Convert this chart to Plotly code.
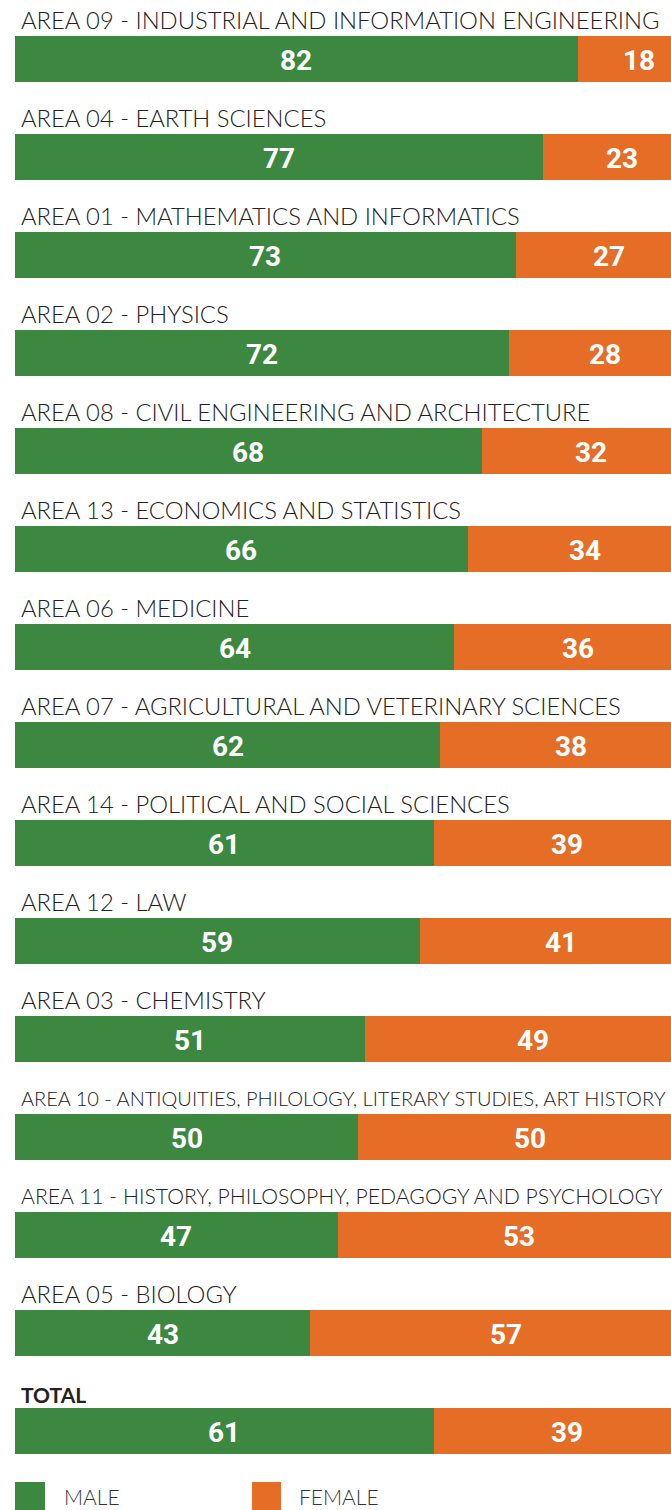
import plotly.graph_objects as go

categories = [
    "AREA 09 - INDUSTRIAL AND INFORMATION ENGINEERING",
    "AREA 04 - EARTH SCIENCES",
    "AREA 01 - MATHEMATICS AND INFORMATICS",
    "AREA 02 - PHYSICS",
    "AREA 08 - CIVIL ENGINEERING AND ARCHITECTURE",
    "AREA 13 - ECONOMICS AND STATISTICS",
    "AREA 06 - MEDICINE",
    "AREA 07 - AGRICULTURAL AND VETERINARY SCIENCES",
    "AREA 14 - POLITICAL AND SOCIAL SCIENCES",
    "AREA 12 - LAW",
    "AREA 03 - CHEMISTRY",
    "AREA 10 - ANTIQUITIES, PHILOLOGY, LITERARY STUDIES, ART HISTORY",
    "AREA 11 - HISTORY, PHILOSOPHY, PEDAGOGY AND PSYCHOLOGY",
    "AREA 05 - BIOLOGY",
    "TOTAL",
]
male = [82, 77, 73, 72, 68, 66, 64, 62, 61, 59, 51, 50, 47, 43, 61]
female = [18, 23, 27, 28, 32, 34, 36, 38, 39, 41, 49, 50, 53, 57, 39]
series_names = ["MALE", "FEMALE"]

GREEN = "#3D8841"
ORANGE = "#E56D25"
LABEL_FONT = "Lato, 'Noto Sans', sans-serif"
NUM_FONT = "Roboto, 'Liberation Sans', sans-serif"

W, H = 671, 1510
ML, MR, MT, MB = 15, 0, 9.5, 30
PW = W - ML - MR
PH = H - MT - MB
X_MAX = 95.6  # the bars run past the right edge of the picture

fig = go.Figure()
for name, vals, col in [(series_names[0], male, GREEN), (series_names[1], female, ORANGE)]:
    fig.add_trace(go.Bar(
        y=categories, x=vals, name=name, orientation="h",
        marker=dict(color=col, line=dict(width=0)),
        width=0.474,
        hoverinfo="skip", showlegend=False,
    ))

annotations = []
# value labels, centred on each segment (positions computed from the data)
for vals, base in [(male, [0] * len(male)), (female, male)]:
    for c, b, v in zip(categories, base, vals):
        annotations.append(dict(
            x=b + v / 2, y=c, xref="x", yref="y", text=str(v),
            xanchor="center", yanchor="middle", yshift=-1, showarrow=False,
            font=dict(family=NUM_FONT, size=28, color="white", weight="bold"),
        ))

for c in categories:
    size = 23.8
    if c.startswith("AREA 10"):
        size = 20.0
    elif c.startswith("AREA 11"):
        size = 21.2
    bold = c == "TOTAL"
    annotations.append(dict(
        x=0, y=c, xref="x", yref="y", text=f"<b>{c}</b>" if bold else c,
        xanchor="left", yanchor="middle", xshift=4, yshift=39.5 if not bold else 37,
        showarrow=False,
        font=dict(family=LABEL_FONT, size=21 if bold else size, color="#222222",
                  weight="bold" if bold else 300),
    ))

def px_x(p):
    return (p - ML) / PW

def px_y(p):
    return (H - MB - p) / PH

shapes = []
legend_items = [(series_names[0], GREEN, 15, 45, 62), (series_names[1], ORANGE, 252, 281, 297)]
for name, col, x0, x1, tx in legend_items:
    shapes.append(dict(type="rect", xref="paper", yref="paper",
                       x0=px_x(x0), x1=px_x(x1), y0=px_y(1510), y1=px_y(1482),
                       fillcolor=col, line=dict(width=0)))
    annotations.append(dict(x=px_x(tx), y=px_y(1497), xref="paper", yref="paper",
                            text=name, xanchor="left", yanchor="middle", showarrow=False,
                            font=dict(family=LABEL_FONT, size=21, color="#333333", weight=300)))

fig.update_layout(
    width=W, height=H, barmode="stack",
    margin=dict(l=ML, r=MR, t=MT, b=MB, pad=0),
    paper_bgcolor="white", plot_bgcolor="white",
    xaxis=dict(range=[0, X_MAX], visible=False, fixedrange=True),
    yaxis=dict(range=[len(categories) - 0.5, -0.5], visible=False, type="category",
               fixedrange=True),
    annotations=annotations, shapes=shapes,
)
post = "document.body.style.margin='0px';document.body.style.overflow='hidden';"
fig.write_html("out.html", config={"displayModeBar": False, "staticPlot": True},
               post_script=post)
